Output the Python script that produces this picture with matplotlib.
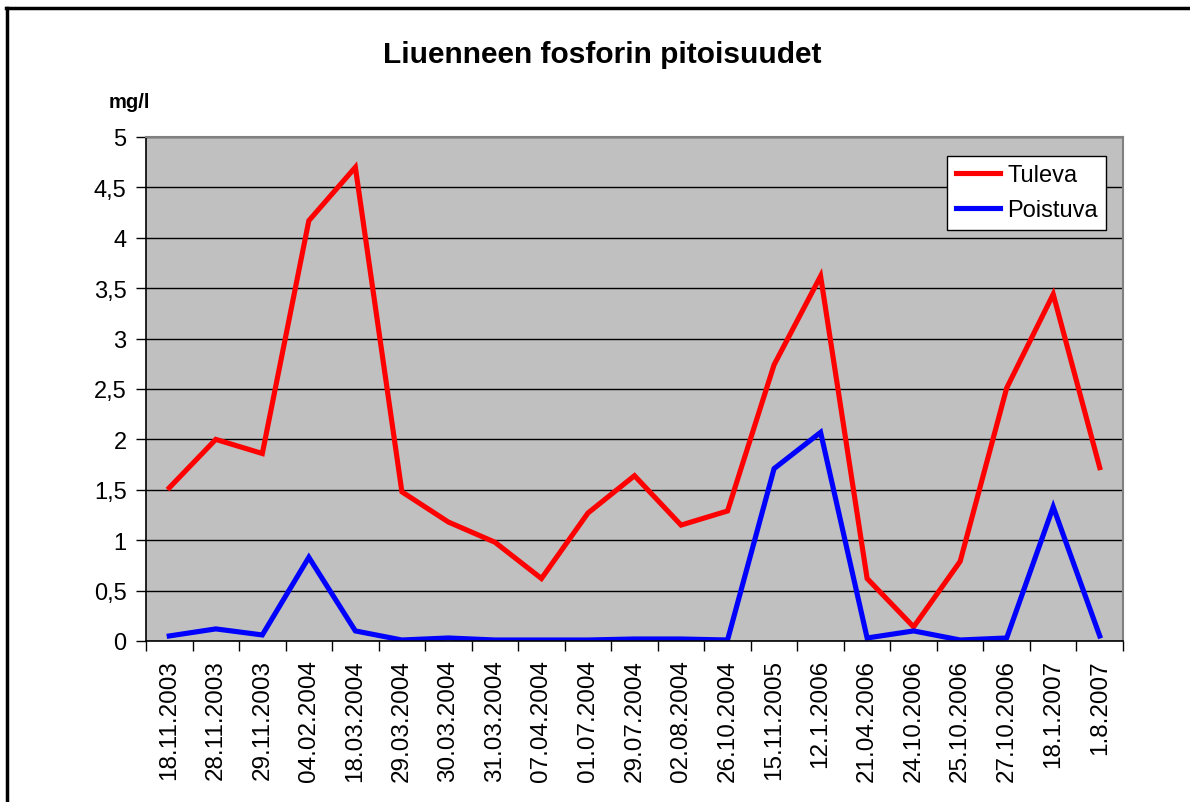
import matplotlib
matplotlib.use("Agg")
import matplotlib.pyplot as plt
from matplotlib.lines import Line2D
from matplotlib.ticker import FuncFormatter, MultipleLocator

plt.rcParams['font.family'] = ['Liberation Sans', 'DejaVu Sans']

dates = ["18.11.2003", "28.11.2003", "29.11.2003", "04.02.2004", "18.03.2004",
         "29.03.2004", "30.03.2004", "31.03.2004", "07.04.2004", "01.07.2004",
         "29.07.2004", "02.08.2004", "26.10.2004", "15.11.2005", "12.1.2006",
         "21.04.2006", "24.10.2006", "25.10.2006", "27.10.2006", "18.1.2007",
         "1.8.2007"]
tuleva = [1.52, 2.00, 1.86, 4.17, 4.70, 1.48, 1.18, 0.98, 0.62, 1.27, 1.64,
          1.15, 1.29, 2.74, 3.62, 0.62, 0.14, 0.79, 2.51, 3.44, 1.72]
poistuva = [0.05, 0.12, 0.06, 0.83, 0.10, 0.01, 0.03, 0.01, 0.01, 0.01, 0.02,
            0.02, 0.01, 1.71, 2.07, 0.03, 0.10, 0.01, 0.03, 1.33, 0.05]

W, H = 1190, 803
fig = plt.figure(figsize=(W / 100, H / 100), dpi=100)
fig.patch.set_facecolor("white")

# outer frame (top and left visible)
fig.add_artist(Line2D([6 / W, 1], [1 - 9 / H, 1 - 9 / H], color="black", lw=2.5,
                      transform=fig.transFigure))
fig.add_artist(Line2D([7 / W, 7 / W], [0, 1 - 9 / H], color="black", lw=2.5,
                      transform=fig.transFigure))

left, right, top, bottom = 146, 1123, 138, 642
ax = fig.add_axes([left / W, 1 - bottom / H, (right - left) / W, (bottom - top) / H])
ax.set_facecolor("#c0c0c0")

x = list(range(len(dates)))
ax.plot(x, tuleva, color="#ff0000", lw=3.7, label="Tuleva", solid_joinstyle="miter")
ax.plot(x, poistuva, color="#0000ff", lw=3.7, label="Poistuva", solid_joinstyle="miter")

ax.set_xlim(-0.5, len(dates) - 0.5)
ax.set_ylim(0, 5)
ax.yaxis.set_major_locator(MultipleLocator(0.5))
ax.yaxis.set_major_formatter(FuncFormatter(lambda v, p: f"{v:g}".replace(".", ",")))
ax.grid(axis="y", color="black", lw=1)
ax.set_axisbelow(True)

ax.set_xticks([i - 0.5 for i in range(len(dates) + 1)])
ax.set_xticklabels([])
ax.set_xticks(x, minor=True)
ax.set_xticklabels(dates, minor=True, rotation=90, fontsize=17.5)
ax.tick_params(axis="x", which="minor", length=0, pad=13)
ax.tick_params(axis="x", which="major", direction="out", length=7, width=1)
ax.tick_params(axis="y", direction="out", length=7, width=1, labelsize=17, pad=7)

for s in ["top", "right"]:
    ax.spines[s].set_color("#808080")
    ax.spines[s].set_linewidth(1.5)
for s in ["left", "bottom"]:
    ax.spines[s].set_color("black")
    ax.spines[s].set_linewidth(1.2)

leg = ax.legend(loc="upper right", bbox_to_anchor=(0.983, 0.962), fontsize=17,
                frameon=True, fancybox=False, edgecolor="black", framealpha=1,
                handlelength=1.9, handletextpad=0.3, borderpad=0.35,
                labelspacing=0.55, borderaxespad=0)
leg.get_frame().set_linewidth(1)

fig.text(602 / W, 1 - 55 / H, "Liuenneen fosforin pitoisuudet", ha="center",
         va="center", fontsize=21.5, fontweight="bold")
fig.text(109 / W, 1 - 103 / H, "mg/l", ha="left", va="center", fontsize=14.5,
         fontweight="bold")

fig.savefig("out.png", dpi=100)
